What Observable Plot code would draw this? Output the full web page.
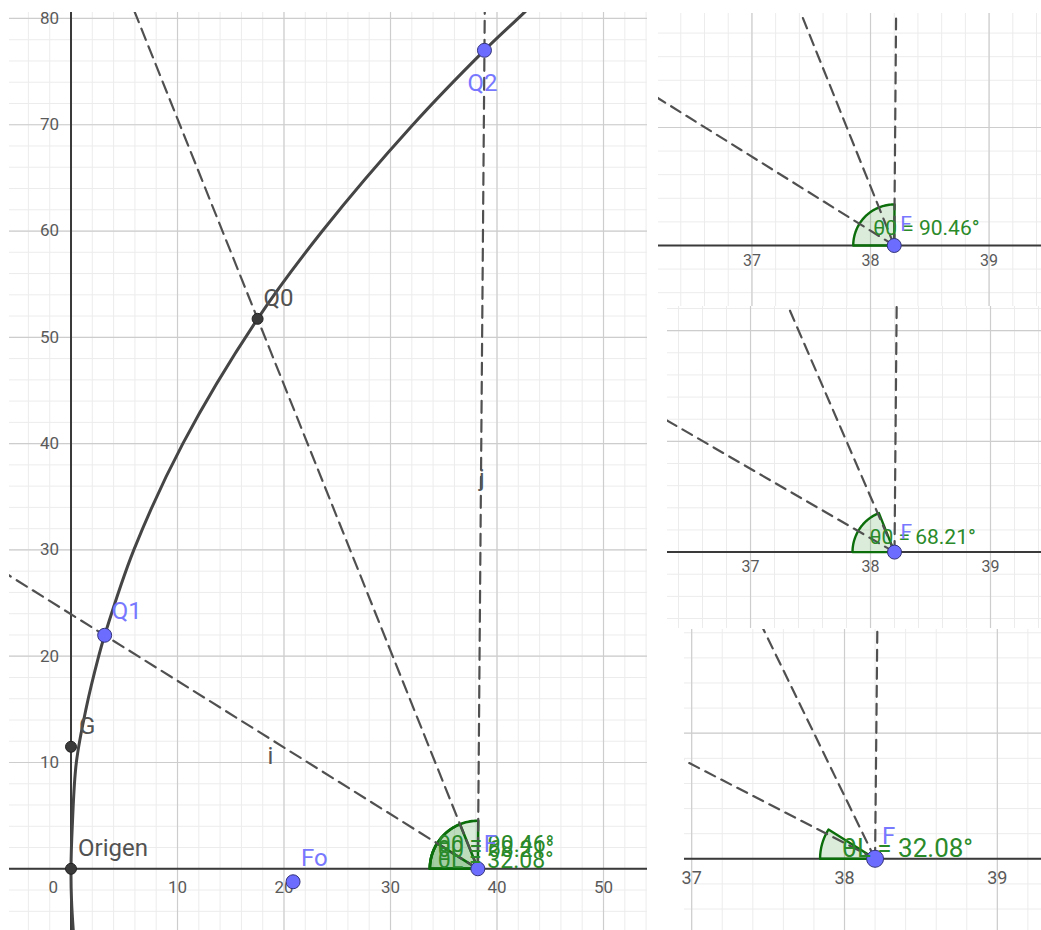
<!DOCTYPE html>
<html><head><meta charset="utf-8">
<script src="https://cdn.jsdelivr.net/npm/d3@7"></script>
<script src="https://cdn.jsdelivr.net/npm/@observablehq/plot@0.6"></script>
<style>
body{margin:0;background:#fff;}
#root{position:relative;width:1041px;height:930px;overflow:hidden;background:#fff;}
.panel{position:absolute;}
.panel svg{display:block;background:transparent;overflow:visible;}
</style></head><body><div id="root"></div>
<script>
// ---------- data ----------
const curveX = [0.22, 0.05, 0, 0.12, 0.5, 1.4, 2.6, 3.16, 5.9, 10.5, 17.52, 23.6, 32.1, 38.82, 42.5, 44.5];
const curveY = [-5.9, -3, 0, 4, 10, 15, 20, 21.97, 30, 40, 51.74, 60, 70, 77.0, 80.5, 82.5];

const pointNames = ["Origen", "G", "Q1", "Q0", "Q2", "Fo", "F"];
const pointX = [0, 0, 3.16, 17.52, 38.82, 20.85, 38.2];
const pointY = [0, 11.48, 21.97, 51.74, 77.0, -1.22, 0];
const pointFree = [false, false, true, false, true, true, true];

const angleNames = ["θ0", "θ0", "θL"];
const angleValues = [90.46, 68.21, 32.08];
const angleTargets = ["Q2", "Q0", "Q1"];

const lineNames = ["j", "i"];
const lineTargets = ["Q2", "Q1"];

const mainXTicks = [10, 20, 30, 40, 50];
const mainYTicks = [10, 20, 30, 40, 50, 60, 70, 80];
const zoomXTicks = [37, 38, 39];

// ---------- helpers ----------
const FONT = "Roboto, 'Noto Sans', sans-serif";
const P = name => { const i = pointNames.indexOf(name); return {x: pointX[i], y: pointY[i]}; };
const F = P("F");

function rayPts(target) {
  const Q = P(target);
  return [[F.x, F.y], [F.x + 4 * (Q.x - F.x), F.y + 4 * (Q.y - F.y)]];
}
const rayTargets = ["Q1", "Q0", "Q2"];

function sectorPts(cfg, theta) {
  const kx = cfg.width / (cfg.x[1] - cfg.x[0]);
  const ky = cfg.height / (cfg.y[1] - cfg.y[0]);
  const pts = [[F.x, F.y]];
  const n = 48;
  for (let i = 0; i <= n; i++) {
    const a = (180 - theta * i / n) * Math.PI / 180;
    pts.push([F.x + cfg.r / kx * Math.cos(a), F.y + cfg.r / ky * Math.sin(a)]);
  }
  pts.push([F.x, F.y]);
  return pts;
}

function gridRange(lo, hi, step) {
  const out = [];
  for (let k = Math.ceil(lo / step - 1e-9); k * step <= hi + 1e-9; k++) out.push(+(k * step).toFixed(6));
  return out;
}

function build(cfg) {
  const marks = [];
  const minorX = gridRange(cfg.x[0], cfg.x[1], cfg.minor);
  const minorY = gridRange(cfg.y[0], cfg.y[1], cfg.minor);
  const majorX = gridRange(cfg.x[0], cfg.x[1], cfg.major);
  const majorY = gridRange(cfg.y[0], cfg.y[1], cfg.major);
  marks.push(Plot.ruleX(minorX, {x: d => d, stroke: "#ececec", strokeWidth: 1}));
  marks.push(Plot.ruleY(minorY, {y: d => d, stroke: "#ececec", strokeWidth: 1}));
  marks.push(Plot.ruleX(majorX, {x: d => d, stroke: "#cdcdcd", strokeWidth: 1.2}));
  marks.push(Plot.ruleY(majorY, {y: d => d, stroke: "#cdcdcd", strokeWidth: 1.2}));
  // axes
  marks.push(Plot.ruleY([0], {y: d => d, stroke: "#3a3a3a", strokeWidth: 2}));
  if (cfg.main) marks.push(Plot.ruleX([0], {x: d => d, stroke: "#3a3a3a", strokeWidth: 2}));

  // tick labels
  if (cfg.main) {
    marks.push(Plot.text(mainXTicks, {x: d => d, y: 0, text: d => String(d), dy: 19, fontSize: 17, fill: "#5a5a5a", fontFamily: FONT}));
    marks.push(Plot.text([0], {x: 0, y: 0, text: d => String(d), dx: -13, dy: 19, textAnchor: "end", fontSize: 17, fill: "#5a5a5a", fontFamily: FONT}));
    marks.push(Plot.text(mainYTicks, {x: 0, y: d => d, text: d => String(d), dx: -12, textAnchor: "end", fontSize: 17, fill: "#5a5a5a", fontFamily: FONT}));
  } else {
    marks.push(Plot.text(zoomXTicks, {x: d => d, y: 0, text: d => String(d), dy: cfg.tickDy, fontSize: cfg.tickSize, fill: "#5a5a5a", fontFamily: FONT}));
  }

  // angle sectors
  cfg.angles.forEach(k => {
    marks.push(Plot.line(sectorPts(cfg, angleValues[k]), {x: d => d[0], y: d => d[1], curve: "linear", fill: "#1f8a1f", fillOpacity: 0.16, stroke: "#0b6e0b", strokeWidth: cfg.main ? 2.6 : 2.4, clip: true}));
  });

  // dashed rays from F through Q1, Q0, Q2
  rayTargets.forEach(t => {
    marks.push(Plot.line(rayPts(t), {x: d => d[0], y: d => d[1], stroke: "#505050", strokeWidth: 2.2, strokeDasharray: cfg.main ? "12,7" : "11,7", clip: true}));
  });

  // parabola
  if (cfg.main) {
    marks.push(Plot.line(curveX.map((x, i) => ({x, y: curveY[i]})), {x: "x", y: "y", curve: "catmull-rom", stroke: "#454545", strokeWidth: 3, clip: true}));
  }

  // points
  const pts = pointNames.map((n, i) => ({n, x: pointX[i], y: pointY[i], free: pointFree[i]}));
  const shown = cfg.main ? pts : pts.filter(d => d.n === "F");
  marks.push(Plot.dot(shown.filter(d => !d.free), {x: "x", y: "y", r: 5.5, fill: "#3a3a3a", stroke: "#222", strokeWidth: 1}));
  marks.push(Plot.dot(shown.filter(d => d.free), {x: "x", y: "y", r: cfg.pointR, fill: "#6c6cff", stroke: "#33337a", strokeWidth: 1}));

  // line names
  if (cfg.main) {
    const lj = P("Q2"), li = P("Q1");
    marks.push(Plot.text([lineNames[0]], {x: F.x + 0.477 * (lj.x - F.x), y: F.y + 0.477 * (lj.y - F.y), text: d => d, dx: 1, fontSize: 24, fill: "#555", fontFamily: FONT}));
    marks.push(Plot.text([lineNames[1]], {x: F.x + 0.556 * (li.x - F.x), y: F.y + 0.556 * (li.y - F.y), text: d => d, dy: 17, fontSize: 24, fill: "#555", fontFamily: FONT}));
  }

  // angle labels
  cfg.angles.forEach((k, j) => {
    const off = cfg.angleOff[j];
    marks.push(Plot.text([k], {x: F.x, y: F.y, text: d => `${angleNames[d]} = ${angleValues[d].toFixed(2)}°`, dx: off[0], dy: off[1], textAnchor: "start", fontSize: cfg.angleSize, fill: "#2a8a2a", fontFamily: FONT}));
  });

  // point labels
  const labels = cfg.labels;
  Object.keys(labels).forEach(n => {
    const p = P(n), o = labels[n];
    const free = pointFree[pointNames.indexOf(n)];
    marks.push(Plot.text([n], {x: p.x, y: p.y, text: d => d, dx: o[0], dy: o[1], textAnchor: o[2] || "start", fontSize: o[3] || cfg.labelSize, fill: free ? "#7878ff" : "#525252", fontFamily: FONT}));
  });

  const svg = Plot.plot({
    width: cfg.width, height: cfg.height, margin: 0,
    x: {domain: cfg.x, axis: null},
    y: {domain: cfg.y, axis: null},
    style: {background: "transparent", overflow: "visible"},
    marks
  });
  const div = document.createElement("div");
  div.className = "panel";
  div.style.left = cfg.left + "px";
  div.style.top = cfg.top + "px";
  div.style.width = cfg.width + "px";
  div.style.height = cfg.height + "px";
  div.appendChild(svg);
  document.getElementById("root").appendChild(div);
}

// ---------- panels ----------
build({
  main: true, left: 9, top: 11.7, width: 638, height: 918.3,
  x: [-5.775, 54.13], y: [-5.833, 80.56], major: 10, minor: 2, r: 48, pointR: 7,
  angles: [0, 1, 2], angleSize: 23,
  angleOff: [[-40, -24], [-40, -19], [-40, -8]],
  labelSize: 24,
  labels: {Origen: [7, -20], G: [8, -20], Q1: [7, -24], Q0: [6, -21], Q2: [-2, 33, "middle"], Fo: [8, -23], F: [6, -24]}
});
build({
  left: 658, top: 13, width: 383, height: 293,
  x: [36.212, 39.442], y: [-0.517, 1.966], major: 1, minor: 0.2, r: 41, pointR: 7,
  angles: [0], angleSize: 21, angleOff: [[-21, -17]],
  tickDy: 15, tickSize: 16, labelSize: 21,
  labels: {F: [6, -21]}
});
build({
  left: 667, top: 306, width: 374, height: 322,
  x: [36.308, 39.425], y: [-0.69, 2.218], major: 1, minor: 0.2, r: 42, pointR: 7,
  angles: [1], angleSize: 21, angleOff: [[-25, -15]],
  tickDy: 15, tickSize: 16, labelSize: 21,
  labels: {F: [6, -20]}
});
build({
  left: 684, top: 629, width: 357, height: 301,
  x: [36.953, 39.289], y: [-0.571, 1.826], major: 1, minor: 0.2, r: 55, pointR: 8.5,
  angles: [2], angleSize: 26, angleOff: [[-33, -10]],
  tickDy: 19, tickSize: 18, labelSize: 24,
  labels: {F: [7, -22]}
});
</script></body></html>
